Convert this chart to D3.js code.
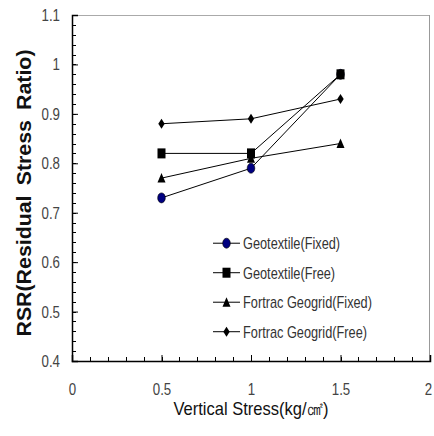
<!DOCTYPE html>
<html>
<head>
<meta charset="utf-8">
<script src="https://cdn.jsdelivr.net/npm/d3@7"></script>
<style>
  body { margin: 0; background: #fff; }
  svg { display: block; }
</style>
</head>
<body>
<script>
// data
var stress = [0.5, 1, 1.5];
var seriesNames = ["Geotextile(Fixed)", "Geotextile(Free)", "Fortrac Geogrid(Fixed)", "Fortrac Geogrid(Free)"];
var geoFixed = [0.73, 0.79, 0.98];
var geoFree = [0.82, 0.82, 0.98];
var fortFixed = [0.77, 0.81, 0.84];
var fortFree = [0.88, 0.89, 0.93];
var xTicks = [0, 0.5, 1, 1.5, 2];
var yTicks = [0.4, 0.5, 0.6, 0.7, 0.8, 0.9, 1, 1.1];

var series = [
    { name: seriesNames[0], values: geoFixed, shape: "circle" },
    { name: seriesNames[1], values: geoFree, shape: "square" },
    { name: seriesNames[2], values: fortFixed, shape: "triangle" },
    { name: seriesNames[3], values: fortFree, shape: "diamond" }
];

var margin = { top: 15, right: 4, bottom: 75, left: 72 },
    width = 434 - margin.left - margin.right,
    height = 436 - margin.top - margin.bottom;

var font = "'Liberation Sans', Arial, sans-serif";

// squeeze text horizontally (the original uses a narrow font)
function squeeze(sel, k) {
    sel.each(function () {
        var len = this.getComputedTextLength();
        d3.select(this).attr("textLength", len * k).attr("lengthAdjust", "spacingAndGlyphs");
    });
}

var svg = d3.select("body").append("svg")
    .attr("width", 434)
    .attr("height", 436);

var g = svg.append("g")
    .attr("transform", "translate(" + margin.left + "," + margin.top + ")");

var x = d3.scaleLinear().domain([0, 2]).range([0, width]);
var y = d3.scaleLinear().domain([0.4, 1.1]).range([height, 0]);

// top and right frame (grey)
g.append("line").attr("x1", 0).attr("x2", width).attr("y1", 0.5).attr("y2", 0.5)
    .attr("stroke", "#aaa").attr("stroke-width", 1);
g.append("line").attr("x1", width - 0.5).attr("x2", width - 0.5).attr("y1", 0).attr("y2", height)
    .attr("stroke", "#999").attr("stroke-width", 1);

// minor ticks
g.append("g").selectAll("line")
    .data(d3.range(0.4, 1.1001, 0.02))
    .enter().append("line")
    .attr("x1", 0).attr("x2", 4)
    .attr("y1", d => Math.round(y(d)) + 0.5).attr("y2", d => Math.round(y(d)) + 0.5)
    .attr("stroke", "#000");
g.append("g").selectAll("line")
    .data(d3.range(0, 2.0001, 0.1))
    .enter().append("line")
    .attr("y1", height).attr("y2", height - 4)
    .attr("x1", d => Math.round(x(d)) + 0.5).attr("x2", d => Math.round(x(d)) + 0.5)
    .attr("stroke", "#000");

var yAxis = d3.axisLeft(y).tickValues(yTicks).tickSize(-6).tickPadding(12)
    .tickFormat(d3.format("~g"));
var xAxis = d3.axisBottom(x).tickValues(xTicks).tickSize(-6).tickPadding(22)
    .tickFormat(d3.format("~g"));

var ya = g.append("g").call(yAxis);
var xa = g.append("g").attr("transform", "translate(0," + height + ")").call(xAxis);
[ya, xa].forEach(function (a) {
    a.select(".domain").attr("stroke", "#000").attr("stroke-width", 1.5);
    a.selectAll(".tick line").attr("stroke", "#000");
    a.selectAll(".tick text").attr("font-family", font).attr("font-size", 17).attr("fill", "#444")
        .call(squeeze, 0.78);
});
// keep the last x label inside the window
xa.selectAll(".tick text").filter(d => d === 2).attr("x", -2);

// series lines
var line = d3.line()
    .x((d, i) => x(stress[i]))
    .y(d => y(d));

g.selectAll(".series")
    .data(series)
    .enter().append("path")
    .attr("class", "series")
    .attr("d", d => line(d.values))
    .attr("fill", "none")
    .attr("stroke", "#000")
    .attr("stroke-width", 1);

function drawMarker(sel, shape) {
    if (shape === "circle") {
        sel.append("ellipse").attr("rx", 3.8).attr("ry", 5).attr("fill", "#000080").attr("stroke", "#000").attr("stroke-width", 0.6);
    } else if (shape === "square") {
        sel.append("rect").attr("x", -4).attr("y", -5).attr("width", 8).attr("height", 10).attr("fill", "#000");
    } else if (shape === "triangle") {
        sel.append("path").attr("d", "M0,-5L4,4.5L-4,4.5Z").attr("fill", "#000");
    } else {
        sel.append("path").attr("d", "M0,-5L3.2,0L0,5L-3.2,0Z").attr("fill", "#000");
    }
}

series.forEach(function (s) {
    s.values.forEach(function (v, i) {
        var m = g.append("g").attr("transform", "translate(" + x(stress[i]) + "," + y(v) + ")");
        drawMarker(m, s.shape);
    });
});

// legend
var legend = g.append("g").attr("transform", "translate(141," + (y(0.7) + 30.5) + ")");
series.forEach(function (s, i) {
    var row = legend.append("g").attr("transform", "translate(0," + (i * 29.5) + ")");
    row.append("line").attr("x1", 0).attr("x2", 27).attr("y1", 0).attr("y2", 0)
        .attr("stroke", "#000").attr("stroke-width", 1);
    drawMarker(row.append("g").attr("transform", "translate(13.5,0)"), s.shape);
    row.append("text").attr("x", 30).attr("y", 6)
        .attr("font-family", font).attr("font-size", 17).attr("fill", "#333")
        .text(s.name)
        .call(squeeze, 0.75);
});

// axis titles
svg.append("text")
    .attr("transform", "translate(31,193) rotate(-90)")
    .attr("text-anchor", "middle")
    .attr("font-family", font)
    .attr("font-weight", "bold")
    .attr("font-size", 20)
    .attr("word-spacing", 4)
    .attr("fill", "#111")
    .attr("textLength", 287)
    .attr("lengthAdjust", "spacingAndGlyphs")
    .text("RSR(Residual Stress Ratio)");

svg.append("text")
    .attr("x", margin.left + x(1))
    .attr("y", 415)
    .attr("text-anchor", "middle")
    .attr("font-family", font)
    .attr("font-size", 19)
    .attr("fill", "#111")
    .text("Vertical Stress(kg/㎠)")
    .call(squeeze, 0.87);
</script>
</body>
</html>
